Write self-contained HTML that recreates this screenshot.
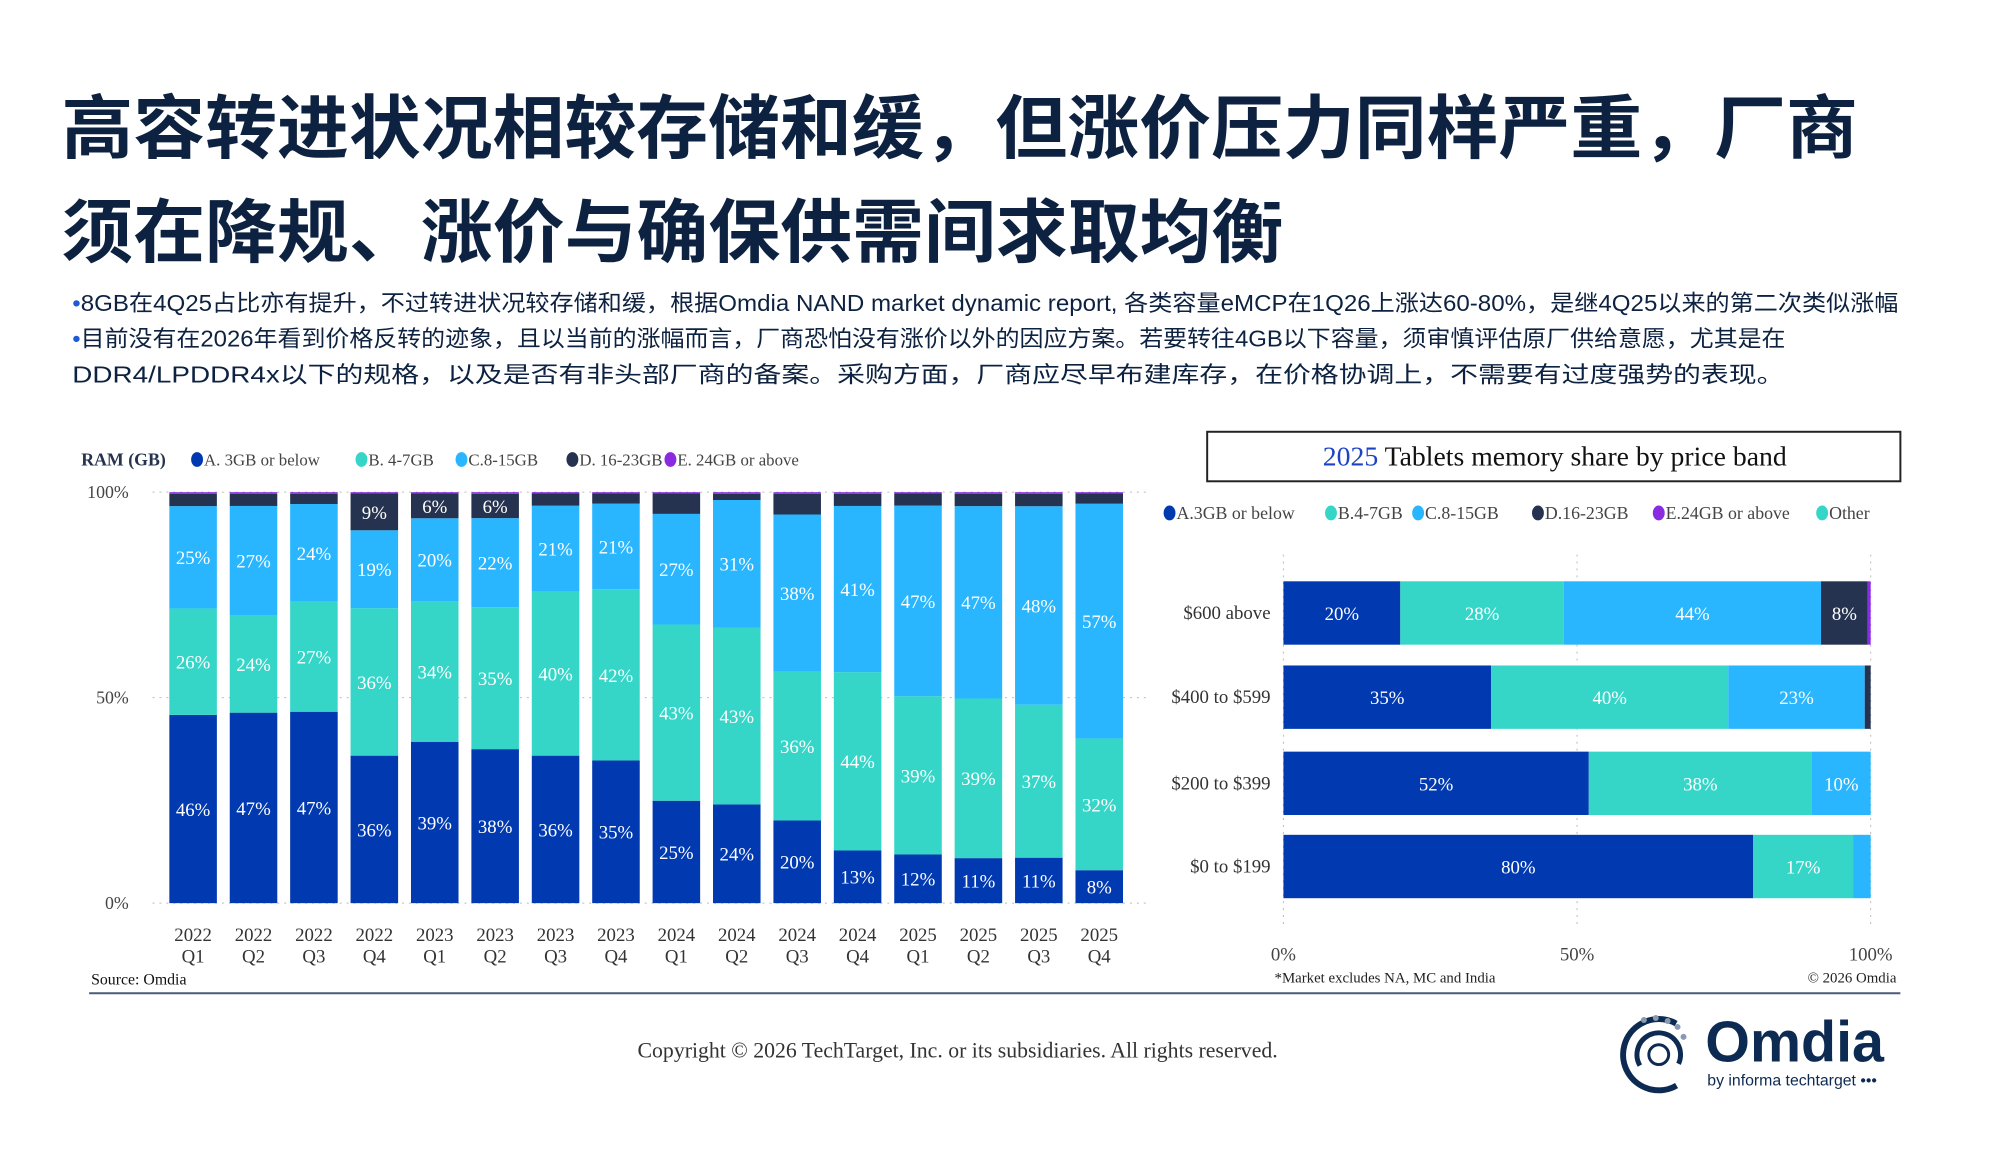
<!DOCTYPE html>
<html><head><meta charset="utf-8">
<style>
body{margin:0;width:1992px;height:1152px;background:#fff;overflow:hidden;position:relative;font-family:"Liberation Sans","Noto Sans CJK SC",sans-serif;color:#0d2240}
#root{position:absolute;left:0;top:0;width:1992px;height:1152px;transform-origin:0 0}
.title{position:absolute;left:62px;font-size:70px;font-weight:bold;white-space:nowrap;line-height:1;transform-origin:0 0}
.bl{position:absolute;left:73px;font-size:23px;white-space:nowrap;line-height:1;transform-origin:0 0;color:#0d2240}
.bl b{color:#1d5bd6;font-weight:normal}
svg{position:absolute;left:0;top:0}
</style></head><body>
<div id="root">
<div class="title" data-w="1814" style="top:95px">高容转进状况相较存储和缓，但涨价压力同样严重，厂商</div>
<div class="title" data-w="1234" style="top:200px">须在降规、涨价与确保供需间求取均衡</div>
<div class="bl" data-w="1844" style="top:295px"><b>•</b>8GB在4Q25占比亦有提升，不过转进状况较存储和缓，根据Omdia NAND market dynamic report, 各类容量eMCP在1Q26上涨达60-80%，是继4Q25以来的第二次类似涨幅</div>
<div class="bl" data-w="1730" style="top:331px"><b>•</b>目前没有在2026年看到价格反转的迹象，且以当前的涨幅而言，厂商恐怕没有涨价以外的因应方案。若要转往4GB以下容量，须审慎评估原厂供给意愿，尤其是在</div>
<div class="bl" data-w="1729" style="top:367px">DDR4/LPDDR4x以下的规格，以及是否有非头部厂商的备案。采购方面，厂商应尽早布建库存，在价格协调上，不需要有过度强势的表现。</div>

<svg id="chart" width="1992" height="1152" font-family="'Liberation Serif',serif"></svg>
</div>
<script>
// Left chart data
const quarters=["2022 Q1","2022 Q2","2022 Q3","2022 Q4","2023 Q1","2023 Q2","2023 Q3","2023 Q4","2024 Q1","2024 Q2","2024 Q3","2024 Q4","2025 Q1","2025 Q2","2025 Q3","2025 Q4"];
const ramA=[46,47,47,36,39,38,36,35,25,24,20,13,12,11,11,8];
const ramB=[26,24,27,36,34,35,40,42,43,43,36,44,39,39,37,32];
const ramC=[25,27,24,19,20,22,21,21,27,31,38,41,47,47,48,57];
const ramD=[3,3,2.5,9,6,6,3,2.5,5,1.5,5,3,3,3,3,2.5];
const ramE=[0.4,0.4,0.4,0.3,0.3,0.4,0.3,0.3,0.3,0.4,0.4,0.4,0.3,0.4,0.4,0.3];
const yTicks=["0%","50%","100%"];
// Right chart data
const bands=["$600 above","$400 to $599","$200 to $399","$0 to $199"];
const bandA=[20,35,52,80];
const bandB=[28,40,38,17];
const bandC=[44,23,10,3];
const bandD=[8,1,0,0];
const bandE=[0.5,0,0,0];
const xTicks=["0%","50%","100%"];

const COL={A:"#0039b0",B:"#35d6c8",C:"#29b6ff",D:"#263350",E:"#8a2be2"};
const svg=document.getElementById('chart');
const NS="http://www.w3.org/2000/svg";
function mk(tag,attrs,parent){const e=document.createElementNS(NS,tag);for(const k in attrs)e.setAttribute(k,attrs[k]);(parent||svg).appendChild(e);return e;}
function txt(s,attrs){const e=mk('text',attrs);e.textContent=s;return e;}

// ---- left chart ----
const L={x0:195,pitch:61,bw:48,y0:912,y100:497};
const ly=v=>L.y0-(L.y0-L.y100)*v/100;
const lx=i=>L.x0+i*L.pitch;
yTicks.forEach((t,i)=>{const v=i*50;
 const g=mk('line',{x1:154,x2:1160,y1:ly(v),y2:ly(v),stroke:"#bbb","stroke-dasharray":"2,5"});
 
 const tt=txt(t,{x:130,y:ly(v)+6,"text-anchor":"end","font-size":18,fill:"#444"});
 
});
quarters.forEach((q,i)=>{
 const vals=[ramA[i],ramB[i],ramC[i],ramD[i],ramE[i]];const tot=vals.reduce((a,b)=>a+b,0);
 const keys=["A","B","C","D","E"];let acc=0;
 vals.forEach((v,k)=>{const n=v/tot*100;const yt=ly(acc+n),yb=ly(acc);
  const r=mk('rect',{x:lx(i)-L.bw/2,y:yt,width:L.bw,height:Math.max(0,yb-yt),fill:COL[keys[k]]});
  
  
  if(k<3||(k==3&&v>=6)){const lb=txt(Math.round(v)+'%',{x:lx(i),y:(yt+yb)/2+7,"text-anchor":"middle","font-size":19,fill:"#fff"});
   }
  acc+=n;});
 const p=q.split(' ');
 const t1=txt(p[0],{x:lx(i),y:950,"text-anchor":"middle","font-size":19,fill:"#333"});
 
 const t2=txt(p[1],{x:lx(i),y:972,"text-anchor":"middle","font-size":19,fill:"#333"});
 
});
// left legend
const lgT=txt('RAM (GB)',{x:82,y:470,"font-size":18,"font-weight":"bold",fill:"#263350"});

[["A","A. 3GB or below",199],["B","B. 4-7GB",365],["C","C.8-15GB",466],["D","D. 16-23GB",578],["E","E. 24GB or above",677]].forEach(([k,s,x])=>{
 const c=mk('ellipse',{cx:x,cy:464,rx:6,ry:7.5,fill:COL[k]});
 const t=txt(s,{x:x+7,y:470,"font-size":17,fill:"#444"});
});
const src=txt('Source: Omdia',{x:92,y:994,"font-size":16,fill:"#111"});
const sep=mk('line',{x1:90,x2:1919,y1:1003,y2:1003,stroke:"#4a5a78","stroke-width":2});

// ---- right chart ----
const R={x0:1296,x100:1889,bh:64,yc:[619,704,791,875]};
const rx=v=>R.x0+(R.x100-R.x0)*v/100;
const box=mk('rect',{x:1219,y:436,width:700,height:50,fill:"#fff",stroke:"#222","stroke-width":2});

const rt=mk('text',{x:1570,y:470,"text-anchor":"middle","font-size":28,fill:"#111"});

const ts1=mk('tspan',{fill:"#1d43c4"},rt);ts1.textContent="2025";const ts2=mk('tspan',{},rt);ts2.textContent=" Tablets memory share by price band";
[["A","A.3GB or below",1181],["B","B.4-7GB",1344],["C","C.8-15GB",1432],["D","D.16-23GB",1553],["E","E.24GB or above",1675],["B","Other",1840]].forEach(([k,s,x])=>{
 const c=mk('ellipse',{cx:x,cy:518,rx:6,ry:7.5,fill:COL[k]});
 const t=txt(s,{x:x+7,y:524,"font-size":18,fill:"#444"});
});
xTicks.forEach((t,i)=>{const v=i*50;
 const g=mk('line',{x1:rx(v),x2:rx(v),y1:560,y2:935,stroke:"#bbb","stroke-dasharray":"2,5"});
 
 const tt=txt(t,{x:rx(v),y:970,"text-anchor":"middle","font-size":19,fill:"#444"});
 
});
bands.forEach((b,i)=>{
 const vals=[bandA[i],bandB[i],bandC[i],bandD[i],bandE[i]];const tot=vals.reduce((a,c)=>a+c,0);
 const keys=["A","B","C","D","E"];let acc=0;const yc=R.yc[i];
 vals.forEach((v,k)=>{const n=v/tot*100;if(n>0){
  const r=mk('rect',{x:rx(acc),y:yc-R.bh/2,width:rx(acc+n)-rx(acc),height:R.bh,fill:COL[keys[k]]});
  
  
  if(v>=5){const lb=txt(Math.round(v)+'%',{x:(rx(acc)+rx(acc+n))/2,y:yc+7,"text-anchor":"middle","font-size":19,fill:"#fff"});
   }}
  acc+=n;});
 const cl=txt(b,{x:1283,y:yc+6,"text-anchor":"end","font-size":19,fill:"#333"});
 
});
const fn=txt('*Market excludes NA, MC and India',{x:1287,y:992,"font-size":15,fill:"#222"});
const cp=txt('© 2026 Omdia',{x:1915,y:992,"text-anchor":"end","font-size":15,fill:"#222"});

// footer
const cr=txt('Copyright © 2026 TechTarget, Inc. or its subsidiaries. All rights reserved.',{x:967,y:1068,"text-anchor":"middle","font-size":22,fill:"#333"});

// logo
const lg=mk('g',{});
mk('circle',{cx:1675,cy:1065,r:36,fill:"none",stroke:"#0d2a52","stroke-width":6,"stroke-dasharray":"150 80",transform:"rotate(60 1675 1065)"},lg);
mk('circle',{cx:1675,cy:1065,r:22,fill:"none",stroke:"#0d2a52","stroke-width":5,"stroke-dasharray":"90 50",transform:"rotate(150 1675 1065)"},lg);
mk('circle',{cx:1675,cy:1065,r:10,fill:"none",stroke:"#0d2a52","stroke-width":3},lg);
[[1660,1030],[1672,1028],[1684,1031],[1694,1037],[1700,1047]].forEach(([x,y])=>mk('circle',{cx:x,cy:y,r:3,fill:"#8899b0"},lg));
const ot=mk('text',{x:1722,y:1072,"font-family":"'Liberation Sans',sans-serif","font-size":58,"font-weight":"bold",fill:"#0d2a52"},lg);ot.textContent="Omdia";
const bt=mk('text',{x:1724,y:1096,"font-family":"'Liberation Sans',sans-serif","font-size":16,fill:"#0d2a52"},lg);bt.textContent="by informa techtarget •••";

// fit text lines to measured widths
document.querySelectorAll('[data-w]').forEach(el=>{const w=+el.dataset.w;const r=el.getBoundingClientRect().width;if(r>0)el.style.transform='scaleX('+(w/r)+')';});
document.getElementById('root').style.transform='scale(0.9903)';
</script>
</body></html>
